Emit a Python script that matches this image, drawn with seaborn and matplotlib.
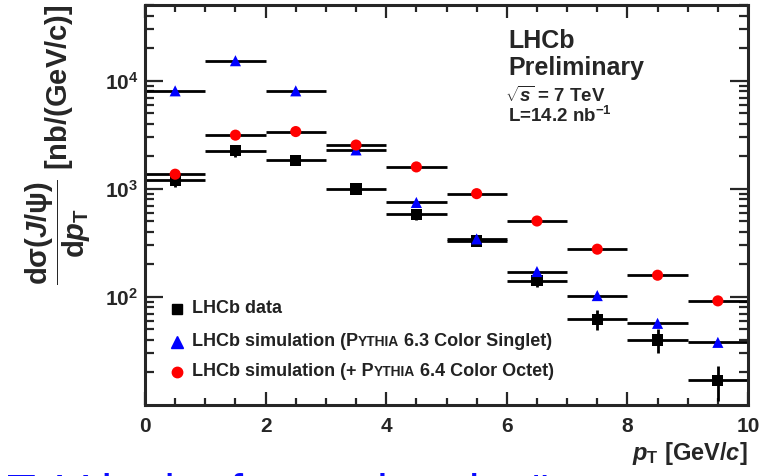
import numpy as np
import pandas as pd
import seaborn as sns
import matplotlib.pyplot as plt
from matplotlib.offsetbox import TextArea, HPacker, AnchoredOffsetbox

# p_T bins (centres, half width 0.5 GeV/c)
pt_bins = [0.5, 1.5, 2.5, 3.5, 4.5, 5.5, 6.5, 7.5, 8.5, 9.5]
data_vals = [1200, 2250, 1850, 1000, 585, 330, 141, 62, 40, 17]
data_err = [150, 260, 180, 100, 65, 35, 18, 13, 10, 6]
singlet_vals = [8100, 15400, 8100, 2300, 750, 345, 172, 103, 57, 38]
octet_vals = [1370, 3150, 3400, 2550, 1600, 905, 505, 277, 159, 92]
bin_half = 0.5

colors = {"data": "black", "singlet": "#0000ff", "octet": "#ff0000"}
markers = {"data": "s", "singlet": "^", "octet": "o"}

df = pd.concat([
    pd.DataFrame({"pt": pt_bins, "val": data_vals, "series": "data"}),
    pd.DataFrame({"pt": pt_bins, "val": singlet_vals, "series": "singlet"}),
    pd.DataFrame({"pt": pt_bins, "val": octet_vals, "series": "octet"}),
])

sns.set_style("ticks")
plt.rcParams["font.family"] = ["Liberation Sans", "DejaVu Sans"]
plt.rcParams["font.weight"] = "bold"
plt.rcParams["axes.labelweight"] = "bold"
plt.rcParams["mathtext.fontset"] = "custom"
plt.rcParams["mathtext.rm"] = "Liberation Sans:bold"
plt.rcParams["mathtext.bf"] = "Liberation Sans:bold"
plt.rcParams["mathtext.it"] = "Liberation Sans:bold:italic"
plt.rcParams["mathtext.default"] = "rm"

fig = plt.figure(figsize=(7.77, 4.76), dpi=100)
ax = fig.add_axes([0.1866, 0.1492, 0.7761, 0.8403])

# horizontal bin-width bars (and vertical stat errors for data)
for vals in [singlet_vals, octet_vals]:
    ax.errorbar(pt_bins, vals, xerr=bin_half, fmt="none", ecolor="black",
                elinewidth=2.0, capsize=0, zorder=2)
ax.errorbar(pt_bins, data_vals, xerr=bin_half, yerr=data_err, fmt="none",
            ecolor="black", elinewidth=2.0, capsize=0, zorder=2)

sns.scatterplot(data=df, x="pt", y="val", hue="series", style="series",
                palette=colors, markers=markers, s=64, linewidth=0,
                legend=False, zorder=3, ax=ax)

ax.set_yscale("log")
ax.set_xlim(0, 10)
ax.set_ylim(10, 5.05e4)
ax.set_yticks([1e2, 1e3, 1e4])
ax.set_xticks([0, 2, 4, 6, 8, 10])
ax.set_xticks(np.arange(0, 10.01, 0.5), minor=True)
ax.set_xticklabels(["0", "2", "4", "6", "8", "10"])

for s in ax.spines.values():
    s.set_linewidth(2.2)
    s.set_visible(True)
ax.tick_params(which="both", direction="in", top=True, right=True, width=1.6,
               labelsize=15)
ax.tick_params(axis="x", which="major", length=9.5, pad=9)
ax.tick_params(axis="x", which="minor", length=5)
ax.tick_params(axis="y", which="major", length=13, pad=5)
ax.tick_params(axis="y", which="minor", length=6.5)

ax.set_xlabel(r"$\mathit{p}_{\mathrm{T}}$ [GeV/$\mathit{c}$]", fontsize=17,
              loc="right")
ax.xaxis.set_label_coords(1.0, -0.088)
ax.set_ylabel(r"$\dfrac{\mathrm{d}\sigma(\mathit{J}/\psi)}{\mathrm{d}\mathit{p}_{\mathrm{T}}}$ [nb/(GeV/c)]",
              fontsize=21, loc="top")
ax.yaxis.set_label_coords(-0.086, 1.0)

# LHCb label block
ax.text(0.602, 0.892, "LHCb", transform=ax.transAxes, fontsize=18,
        fontweight="bold", va="baseline")
ax.text(0.602, 0.825, "Preliminary", transform=ax.transAxes, fontsize=18,
        fontweight="bold", va="baseline")
ax.text(0.597, 0.758, r"$\sqrt{\mathit{s}}$ = 7 TeV", transform=ax.transAxes,
        fontsize=13.5, va="baseline")
ax.text(0.602, 0.7075, r"L=14.2 nb$^{\mathrm{-1}}$", transform=ax.transAxes,
        fontsize=13.5, va="baseline")

# legend with small-caps PYTHIA
leg_rows = [
    ("data", 0.24, [("LHCb data", 13)]),
    ("singlet", 0.1575, [("LHCb simulation (P", 13), ("YTHIA", 10),
                         (" 6.3 Color Singlet)", 13)]),
    ("octet", 0.0825, [("LHCb simulation (+ P", 13), ("YTHIA", 10),
                       (" 6.4 Color Octet)", 13)]),
]
for name, yrow, parts in leg_rows:
    ax.plot([0.053], [yrow], marker=markers[name], color=colors[name],
            markersize=8 if name == "singlet" else 7.5, linestyle="none",
            transform=ax.transAxes, clip_on=False)
    boxes = [TextArea(t, textprops=dict(fontsize=fs, fontweight="bold",
                                        color="#222222")) for t, fs in parts]
    pack = HPacker(children=boxes, align="baseline", pad=0, sep=0)
    anchored = AnchoredOffsetbox(loc="center left", child=pack, pad=0,
                                 borderpad=0, frameon=False,
                                 bbox_to_anchor=(0.078, yrow),
                                 bbox_transform=ax.transAxes)
    ax.add_artist(anchored)

# slide text cut at the bottom edge
fig.text(0.009, -0.066, "TeV in the forward region\"", color="#0a0aff",
         fontsize=34, fontweight="normal", va="baseline")

plt.savefig("out.png", dpi=100)
